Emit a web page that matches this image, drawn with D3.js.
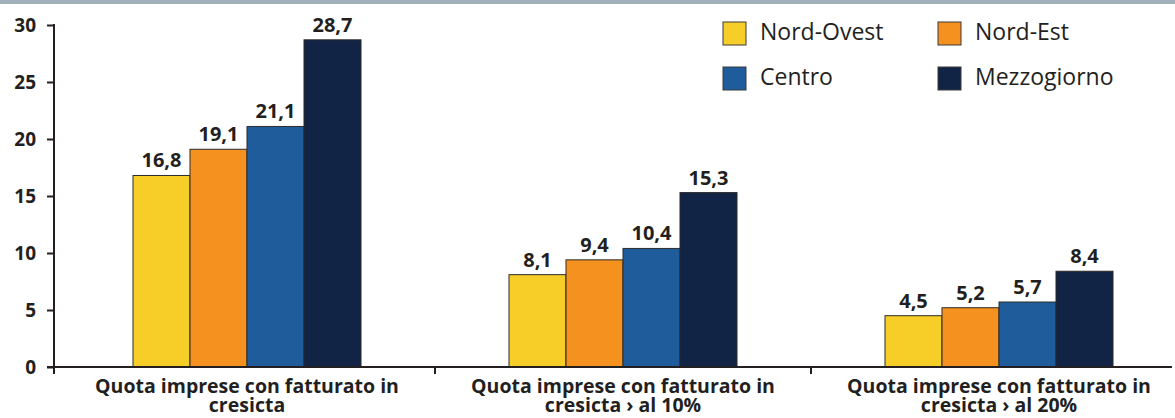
<!DOCTYPE html>
<html>
<head>
<meta charset="utf-8">
<script src="https://cdn.jsdelivr.net/npm/d3@7"></script>
<style>
  html, body { margin: 0; padding: 0; background: #ffffff; }
  svg { display: block; }
  text { font-family: "Open Sans", "DejaVu Sans", sans-serif; fill: #231f20; }
</style>
</head>
<body>
<svg id="chart" width="1175" height="418"></svg>
<script>
// ---- data ----
const categories = [
  ["Quota imprese con fatturato in", "cresicta"],
  ["Quota imprese con fatturato in", "cresicta › al 10%"],
  ["Quota imprese con fatturato in", "cresicta › al 20%"]
];
const seriesNames = ["Nord-Ovest", "Nord-Est", "Centro", "Mezzogiorno"];
const nordOvest   = [16.8, 8.1, 4.5];
const nordEst     = [19.1, 9.4, 5.2];
const centro      = [21.1, 10.4, 5.7];
const mezzogiorno = [28.7, 15.3, 8.4];
const yTicks = [0, 5, 10, 15, 20, 25, 30];
const colors = ["#f7cd28", "#f5911f", "#1e5c9b", "#112446"];

const seriesValues = [nordOvest, nordEst, centro, mezzogiorno];
const catIds = categories.map((c, i) => i);

const svg = d3.select("#chart");
const W = 1175, H = 418;

// top band
svg.append("rect").attr("x", 0).attr("y", 0).attr("width", W).attr("height", 4).attr("fill", "#9fb0ba");

// scales
const y = d3.scaleLinear().domain([0, 30]).range([367, 25]);
const x = d3.scaleBand().domain(catIds).range([59, 1187]).paddingInner(0).paddingOuter(0);
const xs = d3.scaleBand().domain(d3.range(seriesNames.length)).range([0, x.bandwidth()]).paddingInner(0).paddingOuter(1.298);

// bars
const groups = svg.append("g").selectAll("g").data(catIds).join("g")
  .attr("transform", d => `translate(${x(d)},0)`);

groups.selectAll("rect").data(ci => seriesValues.map((s, si) => ({si, v: s[ci]}))).join("rect")
  .attr("x", d => xs(d.si))
  .attr("y", d => y(d.v))
  .attr("width", xs.bandwidth())
  .attr("height", d => y(0) - y(d.v))
  .attr("fill", d => colors[d.si])
  .attr("stroke", "#2b2b2b")
  .attr("stroke-width", 1);

groups.selectAll("text.val").data(ci => seriesValues.map((s, si) => ({si, v: s[ci]}))).join("text")
  .attr("class", "val")
  .attr("x", d => xs(d.si) + xs.bandwidth() / 2)
  .attr("y", d => y(d.v) - 8)
  .attr("text-anchor", "middle")
  .attr("font-size", 20)
  .attr("font-weight", 700)
  .text(d => d3.format(".1f")(d.v).replace(".", ","));

// y axis
const yAxis = svg.append("g").attr("transform", "translate(54,0)")
  .call(d3.axisLeft(y).tickValues(yTicks).tickSize(7).tickPadding(11).tickFormat(d3.format("d")));
yAxis.select(".domain").remove();
yAxis.selectAll(".tick line").attr("stroke", "#231f20").attr("stroke-width", 2);
yAxis.selectAll(".tick text").attr("font-size", 19).attr("font-weight", 700)
  .attr("font-family", "'Open Sans', sans-serif").attr("fill", "#231f20");
svg.append("line").attr("x1", 54).attr("x2", 54).attr("y1", y(30) - 1).attr("y2", 374)
  .attr("stroke", "#231f20").attr("stroke-width", 2);

// x axis
svg.append("line").attr("x1", 47).attr("x2", 1172).attr("y1", y(0)).attr("y2", y(0))
  .attr("stroke", "#231f20").attr("stroke-width", 2);
svg.append("g").selectAll("line").data(catIds.slice(1)).join("line")
  .attr("x1", d => x(d)).attr("x2", d => x(d))
  .attr("y1", y(0)).attr("y2", y(0) + 7)
  .attr("stroke", "#231f20").attr("stroke-width", 2);

const xAxis = svg.append("g").attr("transform", `translate(0,${y(0)})`)
  .call(d3.axisBottom(x).tickSize(0).tickFormat(""));
xAxis.select(".domain").remove();
xAxis.selectAll(".tick").each(function(d) {
  categories[d].forEach((line, i) => {
    d3.select(this).append("text")
      .attr("text-anchor", "middle")
      .attr("font-size", 19.5)
      .attr("font-weight", 700)
      .attr("fill", "#231f20")
      .attr("x", 0).attr("y", 26 + i * 19).text(line);
  });
});

// legend
const legendPos = [[723, 22], [938, 22], [723, 67], [938, 67]];
const legend = svg.append("g").selectAll("g").data(seriesNames).join("g")
  .attr("transform", (d, i) => `translate(${legendPos[i][0]},${legendPos[i][1]})`);
legend.append("rect").attr("width", 23).attr("height", 23)
  .attr("fill", (d, i) => colors[i]).attr("stroke", "#3a3a3a").attr("stroke-width", 1);
legend.append("text").attr("x", 37).attr("y", 18).attr("font-size", 23).text(d => d);
</script>
</body>
</html>
